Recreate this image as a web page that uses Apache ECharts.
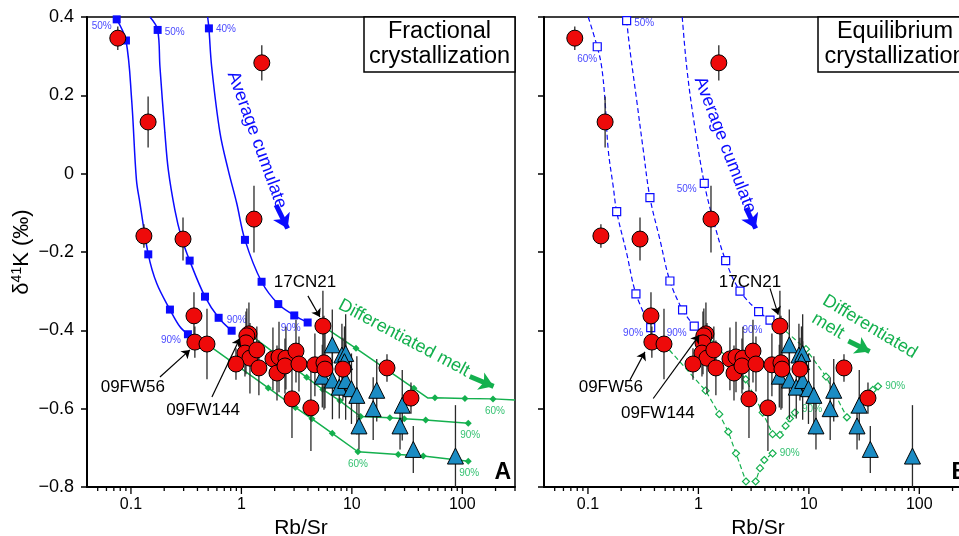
<!DOCTYPE html>
<html>
<head>
<meta charset="utf-8">
<script src="https://cdn.jsdelivr.net/npm/echarts@6/dist/echarts.min.js"></script>
<style>
  html, body { margin: 0; padding: 0; background: #fff; }
  #chart { width: 959px; height: 536px; }
</style>
</head>
<body>
<div id="chart"></div>
<script>
// ---------- samples: Rb/Sr, δ41K (‰) and 2SD ----------
const graniteRbSr = [0.076, 0.143, 1.53, 0.131, 0.296, 1.30, 0.372, 0.379, 0.488, 1.17, 1.12, 1.10, 1.077, 1.195, 1.38, 1.44, 0.893, 1.93, 2.10, 2.19, 2.53, 2.48, 3.12, 3.32, 2.87, 4.26, 4.63, 5.59, 5.71, 8.30, 5.47, 20.8, 34.3];
const graniteD41K  = [0.346, 0.132, 0.283, -0.159, -0.167, -0.116, -0.363, -0.430, -0.435, -0.409, -0.414, -0.432, -0.458, -0.471, -0.450, -0.496, -0.486, -0.473, -0.509, -0.468, -0.471, -0.491, -0.453, -0.486, -0.575, -0.598, -0.488, -0.483, -0.499, -0.499, -0.389, -0.496, -0.573];
const graniteErr   = [0.03, 0.065, 0.045, 0.03, 0.055, 0.085, 0.06, 0.04, 0.09, 0.08, 0.07, 0.08, 0.06, 0.09, 0.06, 0.07, 0.04, 0.08, 0.07, 0.09, 0.08, 0.07, 0.08, 0.07, 0.10, 0.11, 0.08, 0.12, 0.10, 0.08, 0.09, 0.035, 0.04];

const pegmatiteRbSr = [6.65, 8.13, 8.79, 8.57, 5.40, 6.67, 7.69, 8.79, 9.92, 11.1, 16.8, 15.6, 28.6, 11.6, 27.3, 36.0, 86.7];
const pegmatiteD41K = [-0.437, -0.463, -0.459, -0.480, -0.517, -0.527, -0.545, -0.528, -0.549, -0.566, -0.553, -0.600, -0.591, -0.644, -0.644, -0.704, -0.721];
const pegmatiteErr  = [0.09, 0.08, 0.10, 0.09, 0.08, 0.10, 0.08, 0.10, 0.09, 0.10, 0.08, 0.08, 0.09, 0.06, 0.06, 0.06, 0.13];

// ---------- model paths: [Rb/Sr, δ41K, node marker (1/0), step label] ----------
// Fractional crystallization, average cumulate
const fcCumulate1 = [[0.0743,0.394,1,'50%'],[0.0901,0.340,1,''],[0.1015,0.188,0,''],[0.1121,-0.016,0,''],[0.1206,-0.075,0,''],[0.1435,-0.206,1,''],[0.171,-0.280,0,''],[0.2254,-0.347,1,''],[0.278,-0.391,0,''],[0.328,-0.410,1,'90%']];
const fcCumulate2 = [[0.1486,0.400,0,''],[0.1745,0.367,1,'50%'],[0.183,0.273,0,''],[0.203,0.104,0,''],[0.218,0.009,0,''],[0.250,-0.093,0,''],[0.284,-0.159,0,''],[0.340,-0.222,1,''],[0.468,-0.314,1,''],[0.622,-0.368,1,''],[0.816,-0.401,1,'90%']];
const fcCumulate3 = [[0.495,0.400,0,''],[0.508,0.371,1,'40%'],[0.538,0.273,0,''],[0.640,0.104,0,''],[0.760,0.009,0,''],[0.906,-0.075,0,''],[1.077,-0.169,1,''],[1.523,-0.276,1,''],[2.156,-0.333,1,''],[3.01,-0.362,1,''],[3.98,-0.380,1,'90%']];
// Fractional crystallization, differentiated melt
const fcMelt1 = [[5.47,-0.389,0,''],[10.9,-0.446,1,''],[36.5,-0.548,1,''],[48.9,-0.573,0,''],[56.5,-0.572,1,''],[105.6,-0.574,1,''],[189.6,-0.575,1,'60%'],[300,-0.578,0,'']];
const fcMelt2 = [[1.17,-0.409,0,''],[3.90,-0.520,1,''],[5.45,-0.551,1,''],[7.80,-0.580,1,''],[12.0,-0.620,1,''],[22.1,-0.623,1,''],[29.8,-0.626,1,''],[46.6,-0.629,1,''],[113.2,-0.637,1,'90%']];
const fcMelt3 = [[0.488,-0.435,0,''],[1.75,-0.547,1,''],[3.08,-0.597,1,''],[4.35,-0.626,1,''],[6.65,-0.663,1,''],[11.35,-0.710,1,'60%'],[26.3,-0.717,1,''],[44.3,-0.721,1,''],[113.2,-0.734,1,'90%']];
// Equilibrium crystallization, average cumulate
const ecCumulate1 = [[0.1006,0.400,0,''],[0.1214,0.324,1,'60%'],[0.133,0.273,0,''],[0.1426,0.188,0,''],[0.1527,0.060,0,''],[0.1694,-0.033,0,''],[0.182,-0.097,1,''],[0.224,-0.203,0,''],[0.272,-0.307,1,''],[0.370,-0.393,1,'90%']];
const ecCumulate2 = [[0.224,0.391,1,'50%'],[0.240,0.316,0,''],[0.276,0.188,0,''],[0.317,0.060,0,''],[0.364,-0.061,1,''],[0.449,-0.169,0,''],[0.552,-0.274,1,''],[0.719,-0.348,1,''],[0.917,-0.389,1,'90%']];
const ecCumulate3 = [[0.714,0.400,0,''],[0.783,0.273,0,''],[0.898,0.145,0,''],[1.130,-0.025,1,'50%'],[1.362,-0.118,0,''],[1.765,-0.222,1,''],[2.38,-0.300,1,''],[3.51,-0.352,1,''],[4.45,-0.374,1,'90%']];
// Equilibrium crystallization, differentiated melt
const ecMelt1 = [[5.47,-0.389,0,''],[9.42,-0.448,1,''],[14.3,-0.518,1,''],[22.1,-0.622,1,''],[38.0,-0.552,1,''],[42.3,-0.543,1,'90%']];
const ecMelt2 = [[1.17,-0.409,0,''],[2.68,-0.525,1,''],[3.82,-0.610,1,''],[4.70,-0.665,1,''],[5.47,-0.667,1,''],[6.16,-0.644,1,''],[6.74,-0.625,1,''],[7.48,-0.610,1,'90%']];
const ecMelt3 = [[0.488,-0.435,0,''],[1.163,-0.554,1,''],[1.545,-0.614,1,''],[1.863,-0.659,1,''],[2.19,-0.714,1,''],[2.696,-0.786,1,''],[3.30,-0.786,1,''],[3.61,-0.752,1,''],[3.95,-0.731,1,''],[4.70,-0.714,1,'90%']];

// ---------- axes ----------
const xMajorLabels = [0.1, 1, 10, 100];
const xMinorTicks = [0.05,0.06,0.07,0.08,0.09,0.2,0.3,0.4,0.5,0.6,0.7,0.8,0.9,2,3,4,5,6,7,8,9,20,30,40,50,60,70,80,90,200,300];
const X_MIN = 0.04, X_MAX = 300, Y_MIN = -0.8, Y_MAX = 0.4, Y_STEP = 0.2;

const FONT = '"Liberation Sans", Arial, Helvetica, sans-serif';
const BLUE = '#0b0bff', BLUE_LABEL = '#4a4aff';
const GREEN = '#14b04e', GREEN_LABEL = '#35c272';
const RED = '#ee0a0a', TEAL = '#1b8cc4';

const GRID_W = 428, GRID_H = 470, GRID_TOP = 17;
const grids = [
  { left: 87, top: GRID_TOP, width: GRID_W, height: GRID_H },
  { left: 544, top: GRID_TOP, width: GRID_W, height: GRID_H }
];

function fmtX(v) {
  const k = xMajorLabels.find(t => Math.abs(v / t - 1) < 1e-6);
  return k === undefined ? '' : String(k);
}
function fmtY(v) {
  const r = Math.round(v * 10) / 10;
  if (r === 0) return '0';
  return r < 0 ? '\u2212' + Math.abs(r).toFixed(1) : r.toFixed(1);
}

function makeXAxis(gi) {
  return {
    type: 'log', logBase: 10, gridIndex: gi, min: X_MIN, max: X_MAX,
    name: 'Rb/Sr', nameLocation: 'middle', nameGap: 21,
    nameTextStyle: { fontFamily: FONT, fontSize: 21, color: '#000' },
    axisLine: { onZero: false, lineStyle: { color: '#000', width: 2 } },
    axisTick: { show: false },
    axisLabel: { fontFamily: FONT, fontSize: 16, color: '#000', margin: 10, formatter: fmtX },
    splitLine: { show: false }
  };
}
function makeYAxis(gi) {
  return {
    type: 'value', gridIndex: gi, min: Y_MIN, max: Y_MAX, interval: Y_STEP,
    name: gi === 0 ? '{n|δ}{s|41}{n|K (‰)}' : '',
    nameLocation: 'middle', nameGap: 53, nameRotate: 90,
    nameTextStyle: {
      fontFamily: FONT, color: '#000',
      rich: {
        n: { fontFamily: FONT, fontSize: 22, color: '#000' },
        s: { fontFamily: FONT, fontSize: 14, color: '#000', padding: [0, 0, 10, 0] }
      }
    },
    axisLine: { onZero: false, lineStyle: { color: '#000', width: 2 } },
    axisTick: { length: 6, lineStyle: { color: '#000', width: 1.5 } },
    axisLabel: { show: gi === 0, fontFamily: FONT, fontSize: 18, color: '#000', margin: 13, formatter: fmtY },
    splitLine: { show: false }
  };
}

// ---------- series builders ----------
function samples(gi, xs, ys, symbol, size, color, z) {
  return {
    type: 'scatter', xAxisIndex: gi, yAxisIndex: gi, z: z,
    symbol: symbol, symbolSize: size,
    itemStyle: { color: color, borderColor: '#000', borderWidth: 1, opacity: 1 },
    data: xs.map((x, i) => [x, ys[i]])
  };
}
function errorBars(gi, xs, ys, es, z) {
  return {
    type: 'custom', xAxisIndex: gi, yAxisIndex: gi, z: z, silent: true,
    encode: { x: 0, y: 1 },
    renderItem: function (params, api) {
      const x = api.value(0), y = api.value(1), e = api.value(2);
      const top = api.coord([x, Math.min(y + e, Y_MAX)]);
      const bot = api.coord([x, Math.max(y - e, Y_MIN)]);
      return { type: 'line', shape: { x1: top[0], y1: top[1], x2: bot[0], y2: bot[1] },
               style: { stroke: '#2a2a2a', lineWidth: 1.3 } };
    },
    data: xs.map((x, i) => [x, ys[i], es[i]])
  };
}
function modelPath(gi, rows, opt) {
  return {
    type: 'line', xAxisIndex: gi, yAxisIndex: gi, z: 2,
    smooth: opt.smooth || false, showAllSymbol: true, silent: true,
    lineStyle: { color: opt.color, width: opt.width || 1.5, type: opt.dash ? [5, 3] : 'solid' },
    itemStyle: opt.open
      ? { color: '#fff', borderColor: opt.color, borderWidth: 1.2 }
      : { color: opt.color, borderColor: opt.color, borderWidth: 0 },
    symbol: opt.symbol, symbolSize: opt.size,
    data: rows.map(r => {
      const item = { value: [r[0], r[1]] };
      if (!r[2]) item.symbol = 'none';
      if (r[3]) {
        const pl = (opt.labels && opt.labels[r[3]]) || ['bottom', [0, 0]];
        item.label = { show: true, formatter: r[3], position: pl[0], offset: pl[1], distance: 3,
                       fontFamily: FONT, fontSize: 10, color: opt.labelColor };
      }
      return item;
    })
  };
}
function tickMarks(gi) {
  return {
    type: 'custom', xAxisIndex: gi, yAxisIndex: gi, z: 6, silent: true,
    encode: { x: 0, y: 1 },
    renderItem: function (params, api) {
      const p = api.coord([api.value(0), Y_MIN]);
      const len = api.value(2) ? 7 : 4;
      return { type: 'line', shape: { x1: p[0], y1: p[1] + 1, x2: p[0], y2: p[1] + len },
               style: { stroke: '#000', lineWidth: 1.3 } };
    },
    data: xMajorLabels.map(v => [v, Y_MIN, 1]).concat(xMinorTicks.map(v => [v, Y_MIN, 0]))
  };
}
function arrows(gi, list, color, width, head) {
  return {
    type: 'lines', coordinateSystem: 'cartesian2d', xAxisIndex: gi, yAxisIndex: gi, z: 7, silent: true,
    symbol: ['none', 'arrow'], symbolSize: head,
    lineStyle: { color: color, width: width, opacity: 1, curveness: 0 },
    data: list.map(c => ({ coords: c }))
  };
}

const blueSolid = { color: BLUE, symbol: 'rect', size: 8, labelColor: BLUE_LABEL, smooth: 0.35 };
const greenSolid = { color: GREEN, symbol: 'diamond', size: 7, labelColor: GREEN_LABEL };
const blueDash = { color: BLUE, symbol: 'rect', size: 8, labelColor: BLUE_LABEL, smooth: 0.35, dash: true, open: true, width: 1.2 };
const greenDash = { color: GREEN, symbol: 'diamond', size: 7, labelColor: GREEN_LABEL, dash: true, open: true, width: 1.2 };
function withLabels(base, labels) { return Object.assign({}, base, { labels: labels }); }

const series = [
  tickMarks(0), tickMarks(1),
  modelPath(0, fcCumulate1, withLabels(blueSolid, { '50%': ['left', [2, 7]], '90%': ['left', [0, 6]] })),
  modelPath(0, fcCumulate2, withLabels(blueSolid, { '50%': ['right', [0, 2]], '90%': ['top', [5, 2]] })),
  modelPath(0, fcCumulate3, withLabels(blueSolid, { '40%': ['right', [0, 1]], '90%': ['left', [0, 6]] })),
  modelPath(0, fcMelt1, withLabels(greenSolid, { '60%': ['bottom', [2, 1]] })),
  modelPath(0, fcMelt2, withLabels(greenSolid, { '90%': ['bottom', [2, 1]] })),
  modelPath(0, fcMelt3, withLabels(greenSolid, { '60%': ['bottom', [0, 1]], '90%': ['bottom', [1, 1]] })),
  modelPath(1, ecCumulate1, withLabels(blueDash, { '60%': ['bottom', [-10, 0]], '90%': ['left', [0, 6]] })),
  modelPath(1, ecCumulate2, withLabels(blueDash, { '50%': ['right', [0, 3]], '90%': ['left', [0, 7]] })),
  modelPath(1, ecCumulate3, withLabels(blueDash, { '50%': ['left', [0, 6]], '90%': ['left', [0, 10]] })),
  modelPath(1, ecMelt1, withLabels(greenDash, { '90%': ['right', [0, 0]] })),
  modelPath(1, ecMelt2, withLabels(greenDash, { '90%': ['right', [0, -3]] })),
  modelPath(1, ecMelt3, withLabels(greenDash, { '90%': ['right', [0, 0]] }))
];
[0, 1].forEach(gi => {
  series.push(errorBars(gi, pegmatiteRbSr, pegmatiteD41K, pegmatiteErr, 3));
  series.push(errorBars(gi, graniteRbSr, graniteD41K, graniteErr, 3));
  series.push(samples(gi, pegmatiteRbSr, pegmatiteD41K, 'triangle', 16, TEAL, 4));
  series.push(samples(gi, graniteRbSr, graniteD41K, 'circle', 16, RED, 5));
});

// ---------- annotation arrows (data coordinates) ----------
series.push(arrows(0, [
  [[4.00, -0.312], [5.14, -0.366]],
  [[0.183, -0.519], [0.342, -0.450]],
  [[0.541, -0.570], [0.97, -0.420]]
], '#000', 1.2, 8));
series.push(arrows(1, [
  [[4.45, -0.293], [5.28, -0.360]],
  [[0.240, -0.527], [0.328, -0.455]],
  [[0.390, -0.574], [1.018, -0.412]]
], '#000', 1.2, 8));
series.push(arrows(0, [[[2.06, -0.080], [2.62, -0.140]]], BLUE, 5, 14));
series.push(arrows(1, [[[2.70, -0.088], [3.30, -0.140]]], BLUE, 5, 14));
series.push(arrows(0, [[[117, -0.518], [192, -0.543]]], GREEN, 5, 14));
series.push(arrows(1, [[[22.8, -0.427], [35.5, -0.454]]], GREEN, 5, 14));

const chart = echarts.init(document.getElementById('chart'));
chart.setOption({
  animation: false,
  backgroundColor: '#fff',
  grid: grids.map(g => Object.assign({
    show: true, borderColor: '#000', borderWidth: 1.5, backgroundColor: 'transparent',
    containLabel: false, outerBoundsMode: 'none'
  }, g)),
  xAxis: [makeXAxis(0), makeXAxis(1)],
  yAxis: [makeYAxis(0), makeYAxis(1)],
  series: series
});

// ---------- text annotations anchored in data coordinates ----------
const notes = [
  { gi: 0, at: [1.38, 0.086], text: 'Average cumulate', rot: -70, size: 18, color: BLUE },
  { gi: 0, at: [3.76, -0.277], text: '17CN21', size: 17, color: '#000' },
  { gi: 0, at: [0.104, -0.545], text: '09FW56', size: 17, color: '#000' },
  { gi: 0, at: [0.449, -0.603], text: '09FW144', size: 17, color: '#000' },
  { gi: 0, at: [29.6, -0.420], text: 'Differentiated melt', rot: -28, size: 18, color: GREEN },
  { gi: 1, at: [1.74, 0.073], text: 'Average cumulate', rot: -69, size: 18, color: BLUE },
  { gi: 1, at: [2.93, -0.277], text: '17CN21', size: 17, color: '#000' },
  { gi: 1, at: [0.161, -0.545], text: '09FW56', size: 17, color: '#000' },
  { gi: 1, at: [0.430, -0.611], text: '09FW144', size: 17, color: '#000' },
  { gi: 1, at: [35.7, -0.391], text: 'Differentiated', rot: -31, size: 18, color: GREEN },
  { gi: 1, at: [14.9, -0.389], text: 'melt', rot: -31, size: 18, color: GREEN }
];
const panelTitles = [
  { gi: 0, text: 'Fractional\ncrystallization', boxW: 151, tag: 'A' },
  { gi: 1, text: 'Equilibrium\ncrystallization', boxW: 154, tag: 'B' }
];

const graphic = [];
notes.forEach(n => {
  const p = chart.convertToPixel({ gridIndex: n.gi }, n.at);
  graphic.push({
    type: 'text', x: p[0], y: p[1], rotation: (n.rot || 0) * Math.PI / 180, z: 20,
    style: { text: n.text, fill: n.color, font: n.size + 'px ' + FONT, align: 'center', verticalAlign: 'middle' }
  });
});
panelTitles.forEach(t => {
  const tr = chart.convertToPixel({ gridIndex: t.gi }, [X_MAX, Y_MAX]);
  const bl = chart.convertToPixel({ gridIndex: t.gi }, [X_MAX, Y_MIN]);
  graphic.push({
    type: 'rect', shape: { x: tr[0] - t.boxW, y: tr[1], width: t.boxW, height: 55 }, z: 20,
    style: { fill: '#fff', stroke: '#000', lineWidth: 1.5 }
  });
  graphic.push({
    type: 'text', x: tr[0] - t.boxW / 2, y: tr[1] + 27, z: 21,
    style: { text: t.text, fill: '#000', font: '23.5px ' + FONT, align: 'center', verticalAlign: 'middle', lineHeight: 25 }
  });
  graphic.push({
    type: 'text', x: bl[0] - 4, y: bl[1] - 3, z: 21,
    style: { text: t.tag, fill: '#000', font: 'bold 23px ' + FONT, align: 'right', verticalAlign: 'bottom' }
  });
});
chart.setOption({ graphic: graphic });
</script>
</body>
</html>
